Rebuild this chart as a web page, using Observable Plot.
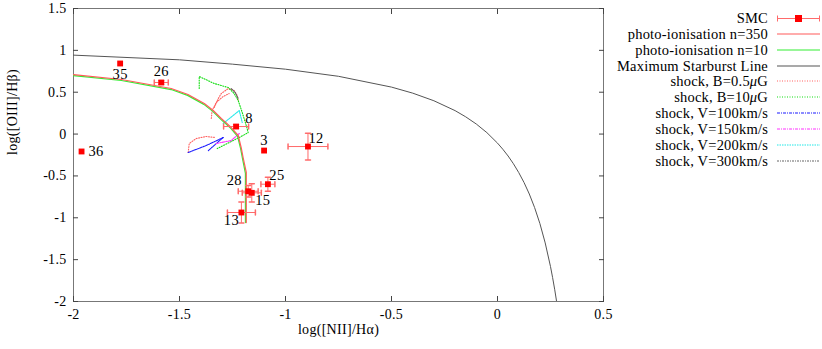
<!DOCTYPE html>
<html><head><meta charset="utf-8">
<script src="https://cdn.jsdelivr.net/npm/d3@7"></script>
<script src="https://cdn.jsdelivr.net/npm/@observablehq/plot@0.6"></script>
<style>
body{margin:0;background:#fff;}
#wrap{position:relative;width:822px;height:349px;overflow:hidden;}
#wrap svg{position:absolute;left:0;top:0;}
</style></head><body><div id="wrap"></div>
<script>
// ---- data ----
const xTicks = [-2, -1.5, -1, -0.5, 0, 0.5];
const yTicks = [-2, -1.5, -1, -0.5, 0, 0.5, 1, 1.5];

const smcLabel = ["35", "26", "36", "8", "3", "12", "25", "28", "15", "13"];
const smcX    = [-1.780, -1.586, -1.962, -1.233, -1.101, -0.894, -1.083, -1.176, -1.159, -1.208];
const smcY    = [0.843, 0.616, -0.208, 0.090, -0.197, -0.149, -0.599, -0.683, -0.702, -0.937];
const smcXErr = [0, 0.033, 0, 0.059, 0, 0.094, 0.033, 0.047, 0.045, 0.066];
const smcYErr = [0, 0.02, 0, 0.02, 0, 0.16, 0.084, 0.07, 0.11, 0.125];

const photo350X = [-2, -1.774, -1.539, -1.460, -1.383, -1.341, -1.303, -1.256, -1.223, -1.209, -1.200, -1.185, -1.185];
const photo350Y = [0.710, 0.652, 0.544, 0.473, 0.365, 0.281, 0.186, 0.078, -0.017, -0.161, -0.280, -0.459, -1.057];
const photo10X  = [-2, -1.774, -1.539, -1.462, -1.385, -1.343, -1.305, -1.258, -1.226, -1.212, -1.203, -1.189, -1.189];
const photo10Y  = [0.698, 0.640, 0.532, 0.462, 0.355, 0.271, 0.176, 0.068, -0.027, -0.171, -0.290, -0.469, -1.057];

const starX = [-2, -1.5, -1.25, -1, -0.75, -0.5, -0.4, -0.3, -0.2, -0.15, -0.1, -0.05, 0, 0.025, 0.05, 0.075, 0.1,
  0.125, 0.15, 0.175, 0.2, 0.225, 0.25, 0.26, 0.27, 0.285];
const starY = [0.943, 0.887, 0.835, 0.775, 0.690, 0.561, 0.489, 0.398, 0.280, 0.206, 0.120, 0.017, -0.108, -0.181,
  -0.262, -0.354, -0.459, -0.578, -0.716, -0.878, -1.069, -1.300, -1.583, -1.715, -1.860, -2.10];

// shock grids: each is a list of segments of [x, y] pairs
const shockB05 = [
  [[-1.336, 0.317], [-1.317, 0.425], [-1.303, 0.484], [-1.270, 0.544], [-1.242, 0.520], [-1.228, 0.461], [-1.223, 0.401]],
  [[-1.350, 0.186], [-1.346, 0.281], [-1.327, 0.377], [-1.294, 0.449], [-1.266, 0.484]],
  [[-1.459, -0.220], [-1.454, -0.113], [-1.421, -0.053], [-1.374, -0.029], [-1.331, -0.041]]
];
const shockB10 = [
  [[-1.407, 0.544], [-1.407, 0.688], [-1.336, 0.604], [-1.270, 0.556], [-1.242, 0.484], [-1.223, 0.401],
   [-1.204, 0.257], [-1.185, 0.102], [-1.176, 0.018], [-1.209, -0.029], [-1.256, -0.089], [-1.322, -0.173]]
];
const shockV100 = [
  [[-1.459, -0.220], [-1.374, -0.137], [-1.294, -0.041]],
  [[-1.364, -0.197], [-1.294, -0.041]]
];
const shockV150 = [
  [[-1.327, -0.113], [-1.256, -0.077], [-1.218, 0.007]]
];
const shockV200 = [
  [[-1.294, 0.126], [-1.218, 0.281], [-1.204, 0.138]]
];
const shockV300 = [
  [[-1.256, 0.544], [-1.237, 0.496], [-1.223, 0.425]]
];

const legendNames = ["SMC", "photo-ionisation n=350", "photo-ionisation n=10", "Maximum Starburst Line",
  "shock, B=0.5|μ|G", "shock, B=10|μ|G", "shock, V=100km/s", "shock, V=150km/s", "shock, V=200km/s", "shock, V=300km/s"];

// ---- styles / layout ----
const C = {
  smc: "#ff0000", err: "#ff6a6a", p350: "#ff5a5a", p10: "#33ee33", star: "#555555",
  b05: "#ff6060", b10: "#11dd11", v100: "#1a1aff", v150: "#ff33ff", v200: "#22e8e8", v300: "#666666"
};
const legendStyle = [
  {k: "smc"}, {stroke: C.p350}, {stroke: C.p10}, {stroke: C.star},
  {stroke: C.b05, dash: "1,1.5"}, {stroke: C.b10, dash: "1,1.5"}, {stroke: C.v100, dash: "3,1,1,1"},
  {stroke: C.v150, dash: "3,1,1,1"}, {stroke: C.v200, dash: "1.5,1"}, {stroke: C.v300, dash: "2,1,1,1"}
];
const labelPlace = {
  "35": [0, 11, "middle"], "26": [0, -11, "middle"], "36": [7, 0, "start"], "8": [13, -8, "middle"],
  "3": [0, -10, "middle"], "12": [8, -8, "middle"], "25": [9, -9, "middle"], "28": [-14, -11, "middle"],
  "15": [11, 8, "middle"], "13": [-10, 8, "middle"]
};
const FONT = "'Liberation Serif', 'DejaVu Serif', serif";

const smc = smcLabel.map((l, i) => ({label: l, x: smcX[i], y: smcY[i], xe: smcXErr[i], ye: smcYErr[i]}));
const xErrRows = smc.filter(d => d.xe > 0);
const yErrRows = smc.filter(d => d.ye > 0);
const toRows = (xs, ys) => xs.map((x, i) => ({x, y: ys[i]}));
const segRows = (segs) => segs.flatMap((s, j) => s.map(([x, y]) => ({x, y, seg: j})));
const capShape = {draw(context, l) { context.moveTo(0, -l / 2); context.lineTo(0, l / 2); }};
const fmt = d => String(d);

const shockMark = (segs, stroke, dash) => Plot.line(segRows(segs), {x: "x", y: "y", z: "seg", stroke, strokeWidth: 1.1, strokeDasharray: dash, clip: true});

const chart = Plot.plot({
  width: 822, height: 349,
  marginLeft: 73, marginRight: 219, marginTop: 8, marginBottom: 48,
  x: {domain: [-2, 0.5]},
  y: {domain: [-2, 1.5]},
  style: {fontFamily: FONT, fontSize: "14px", color: "#000", background: "transparent", letterSpacing: "0.3px"},
  marks: [
    Plot.frame({stroke: "#777"}),
    Plot.axisX({ticks: xTicks, tickFormat: fmt, tickSize: -5, tickPadding: 13, label: null, stroke: "#444", fontSize: 14}),
    Plot.axisX({anchor: "top", ticks: xTicks, tickFormat: () => "", tickSize: -5, label: null, stroke: "#444"}),
    Plot.axisY({ticks: yTicks, tickFormat: fmt, tickSize: -5, tickPadding: 12, label: null, stroke: "#444", fontSize: 14}),
    Plot.axisY({anchor: "right", ticks: yTicks, tickFormat: () => "", tickSize: -5, label: null, stroke: "#444"}),
    Plot.text(["log([NII]/Hα)"], {frameAnchor: "bottom", dy: 32, text: d => d, fontSize: 14}),
    Plot.text(["log([OIII]/Hβ)"], {frameAnchor: "left", dx: -61, rotate: -90, text: d => d, fontSize: 14}),
    Plot.line(toRows(starX, starY), {x: "x", y: "y", stroke: C.star, strokeWidth: 1, clip: true}),
    shockMark(shockB05, C.b05, "1,1.5"),
    shockMark(shockB10, C.b10, "1,1.5"),
    shockMark(shockV100, C.v100, "3,1,1,1"),
    shockMark(shockV150, C.v150, "3,1,1,1"),
    shockMark(shockV200, C.v200, "1.5,1"),
    shockMark(shockV300, C.v300, "2,1,1,1"),
    Plot.line(toRows(photo10X, photo10Y), {x: "x", y: "y", stroke: C.p10, strokeWidth: 1.2}),
    Plot.line(toRows(photo350X, photo350Y), {x: "x", y: "y", stroke: C.p350, strokeWidth: 1.2}),
    Plot.link(xErrRows, {x1: d => d.x - d.xe, x2: d => d.x + d.xe, y1: "y", y2: "y", stroke: C.err, strokeWidth: 1}),
    Plot.link(yErrRows, {x1: "x", x2: "x", y1: d => d.y - d.ye, y2: d => d.y + d.ye, stroke: C.err, strokeWidth: 1}),
    Plot.vector(xErrRows, {x: d => d.x - d.xe, y: "y", length: 5, rotate: 0, anchor: "start", shape: capShape, stroke: C.err}),
    Plot.vector(xErrRows, {x: d => d.x + d.xe, y: "y", length: 5, rotate: 0, anchor: "start", shape: capShape, stroke: C.err}),
    Plot.vector(yErrRows, {x: "x", y: d => d.y - d.ye, length: 5, rotate: 90, anchor: "start", shape: capShape, stroke: C.err}),
    Plot.vector(yErrRows, {x: "x", y: d => d.y + d.ye, length: 5, rotate: 90, anchor: "start", shape: capShape, stroke: C.err}),
    Plot.dot(smc, {x: "x", y: "y", symbol: "square", fill: C.smc, r: 3.3}),
    ...smc.map(d => {
      const [dx, dy, ta] = labelPlace[d.label];
      return Plot.text([d], {x: "x", y: "y", text: "label", dx, dy, textAnchor: ta, fontSize: 14.5});
    })
  ]
});
document.getElementById("wrap").appendChild(chart);

// ---- legend overlay ----
const lg = d3.select("#wrap").append("svg").attr("width", 822).attr("height", 349)
  .style("font-family", FONT).style("font-size", "14.5px").style("letter-spacing", "0.2px");
const rowY = i => Math.round(18 + i * 15.85);
legendNames.forEach((name, i) => {
  const y = rowY(i);
  const t = lg.append("text").attr("x", 768).attr("y", y).attr("dy", "0.35em").attr("text-anchor", "end").attr("fill", "#000");
  name.split("|").forEach((part, j) => {
    const ts = t.append("tspan").text(part);
    if (j === 1) ts.attr("font-style", "italic");
  });
  const s = legendStyle[i];
  if (s.k === "smc") {
    lg.append("line").attr("x1", 777).attr("x2", 820).attr("y1", y + 0.5).attr("y2", y + 0.5).attr("stroke", C.err);
    lg.append("line").attr("x1", 777.5).attr("x2", 777.5).attr("y1", y - 2.5).attr("y2", y + 3.5).attr("stroke", C.err);
    lg.append("line").attr("x1", 819.5).attr("x2", 819.5).attr("y1", y - 2.5).attr("y2", y + 3.5).attr("stroke", C.err);
    lg.append("rect").attr("x", 795).attr("y", y - 3).attr("width", 7).attr("height", 7).attr("fill", C.smc);
  } else {
    const ln = lg.append("line").attr("x1", 777).attr("x2", 820).attr("y1", y).attr("y2", y)
      .attr("stroke", s.stroke).attr("stroke-width", 1.2);
    if (s.dash) ln.attr("stroke-dasharray", s.dash);
  }
});
</script>
</body></html>
